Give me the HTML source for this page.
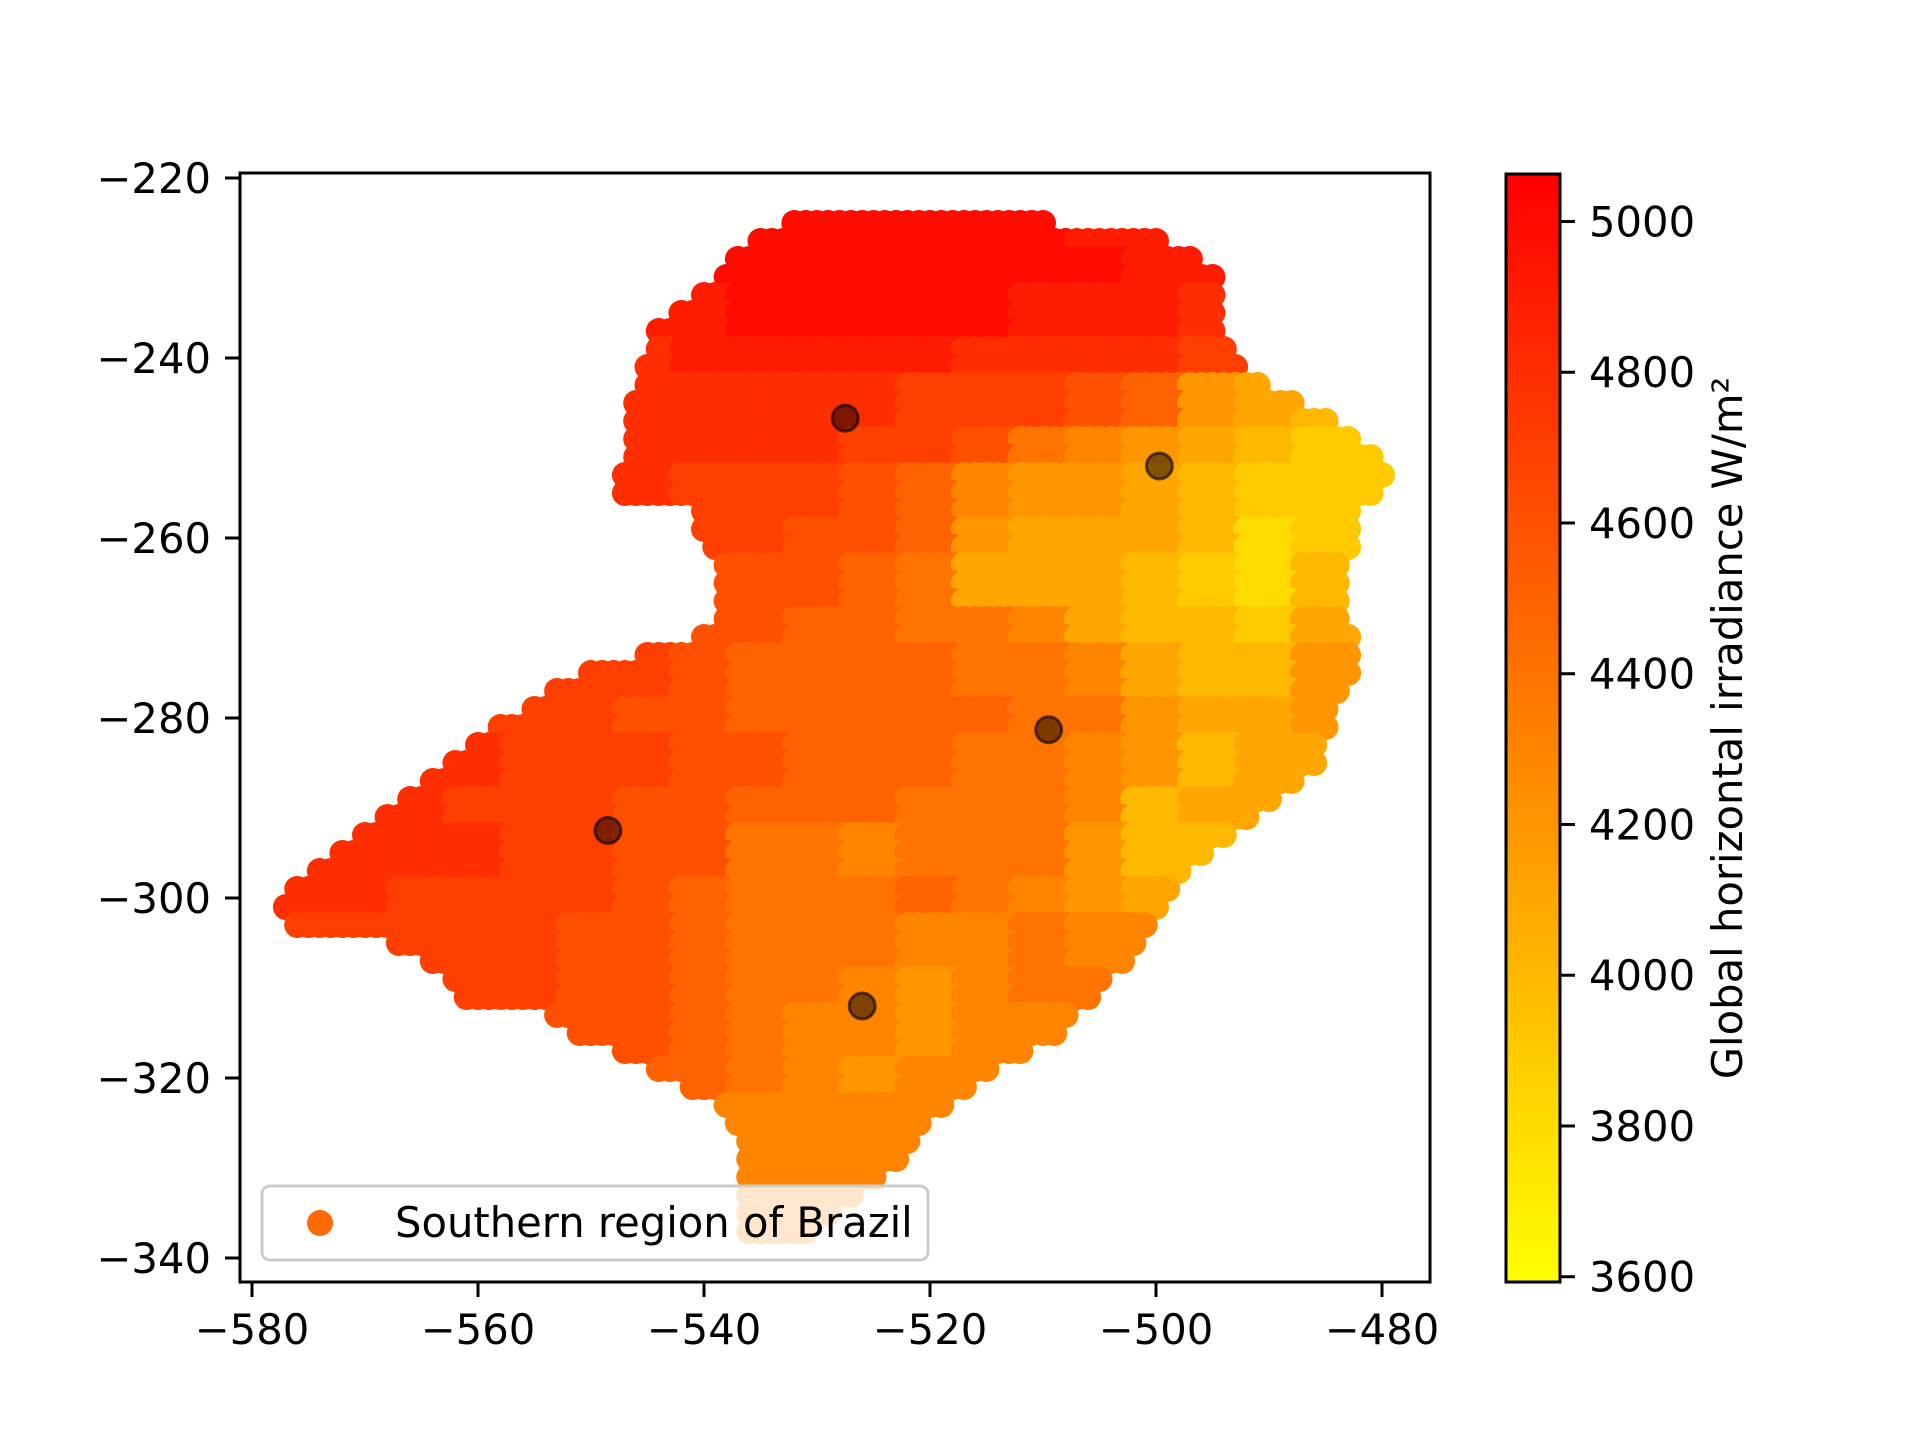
<!DOCTYPE html>
<html><head><meta charset="utf-8">
<style>
html,body{margin:0;padding:0;background:#fff;}
svg{display:block;}
text{font-family:"DejaVu Sans","Liberation Sans",sans-serif;font-size:41.7px;fill:#000;}
</style></head>
<body>
<svg id="chart" width="1920" height="1440" viewBox="0 0 1920 1440" xmlns="http://www.w3.org/2000/svg">
<defs>
<linearGradient id="cbgrad" x1="0" y1="1" x2="0" y2="0">
<stop offset="0" stop-color="#ffff00"/><stop offset="1" stop-color="#ff0000"/>
</linearGradient>
<clipPath id="axclip"><rect x="240" y="173" width="1190" height="1109"/></clipPath>
</defs>
<g id="points" clip-path="url(#axclip)"></g>
<g id="markers"></g>
<rect x="240" y="173" width="1190" height="1109" fill="none" stroke="#000" stroke-width="3"/>
<g id="xticks"></g>
<g id="yticks"></g>
<g>
<rect x="262" y="1186" width="666" height="74" rx="8" fill="rgba(255,255,255,0.8)" stroke="#cccccc" stroke-width="3"/>
<circle cx="320" cy="1223" r="13" fill="#ff6a00"/>
<text x="395" y="1237">Southern region of Brazil</text>
</g>
<rect x="1506" y="174" width="54" height="1108" fill="url(#cbgrad)" stroke="#000" stroke-width="3"/>
<g id="cbticks"></g>
<text transform="translate(1742,728) rotate(-90)" text-anchor="middle">Global horizontal irradiance W/m²</text>
</svg>
<script>
const xTicks=[-580,-560,-540,-520,-500,-480];
const yTicks=[-220,-240,-260,-280,-300,-320,-340];
const cbTicks=[3600,3800,4000,4200,4400,4600,4800,5000];
const vMin=3593, vMax=5063;
// value grid: rows y=-225..-340 step 5, cols x=-580..-480 step 5; value=3600+100*code(hex)
const gridY0=-225, gridX0=-580;
const valueGrid=[
"EEEEEEEEEEEEEEEDDDDDD",
"EEEEEEEEEEEEEEEEDDDDD",
"DDDDDDDDDEEEEEDDDCCCC",
"CCCCCCCCDDDDDCCCCBBBB",
"CCCCCCCCCCCCBBBA96544",
"CCCCCCCCCCCBBA8765433",
"CCCCCCCCBBBA976654333",
"BBBBBBBBBBAA965554232",
"AAAAAAAAAAA9855543244",
"AAAAAAAAAA99887544355",
"BBBBBBBBA999988754466",
"BBBBBBBAA999998865566",
"CCCCCBBBAA99988764555",
"CCCCBBBAA999888745555",
"CCCCCBBAA887888644444",
"CCCBBBBA988898765555",
"BBBBBBAA988877877777",
"BBBBBBAA988767888888",
"AAAAAAAA987767777777",
"999999999876777777777",
"777777777777777777777",
"777777777777777777777",
"777777777777777777777",
"777777777777777777777"
];
// region shape: row y and x extents
const rowY=[-225,-227,-229,-231,-233,-235,-237,-239,-241,-243,-245,-247,-249,-251,-253,-255,-257,-259,-261,-263,-265,-267,-269,-271,-273,-275,-277,-279,-281,-283,-285,-287,-289,-291,-293,-295,-297,-299,-301,-303,-305,-307,-309,-311,-313,-315,-317,-319,-321,-323,-325,-327,-329,-331,-333,-335,-337];
const rowXMin=[-532,-535,-537,-538,-540,-542,-544,-544,-545,-545,-546,-546,-546,-546,-547,-547,-540,-540,-539,-538,-538,-538,-538,-540,-545,-550,-553,-555,-558,-560,-562,-564,-566,-568,-570,-572,-574,-576,-577,-576,-567,-564,-562,-561,-553,-551,-547,-544,-541,-538,-537,-536,-536,-536,-536,-536,-536];
const rowXMax=[-510,-500,-497,-495,-495,-495,-495,-494,-493,-491,-488,-485,-483,-481,-480,-481,-483,-483,-483,-484,-484,-484,-484,-483,-483,-483,-484,-485,-485,-486,-486,-488,-490,-492,-494,-496,-498,-499,-500,-501,-502,-503,-505,-506,-508,-509,-512,-515,-517,-519,-521,-522,-523,-525,-527,-529,-531];
const markerX=[-527.5,-499.7,-548.5,-509.5,-526];
const markerY=[-246.7,-252,-292.5,-281.3,-312];

const NS="http://www.w3.org/2000/svg";
const sx=v=>252+(v+580)*11.3;
const sy=v=>178+(-220-v)*9.0;
const cy=v=>1282-(v-vMin)/(vMax-vMin)*1108;
function color(v){let t=(v-vMin)/(vMax-vMin);t=Math.max(0,Math.min(1,t));return "rgb(255,"+Math.round(255*(1-t))+",0)";}
function valueAt(x,y){
  let r=Math.round((gridY0-y)/5), c=Math.round((x-gridX0)/5);
  r=Math.max(0,Math.min(valueGrid.length-1,r));
  const row=valueGrid[r]; c=Math.max(0,Math.min(row.length-1,c));
  return 3600+100*parseInt(row[c],16);
}
function mk(tag,attrs,parent){const e=document.createElementNS(NS,tag);for(const k in attrs)e.setAttribute(k,attrs[k]);parent.appendChild(e);return e;}
const pg=document.getElementById('points');
for(let i=0;i<rowY.length;i++){
  for(let x=rowXMin[i];x<=rowXMax[i];x+=1){
    const c=mk('circle',{cx:sx(x),cy:sy(rowY[i]),r:13,fill:color(valueAt(x,rowY[i]))},pg);
    
    
  }
}
const mg=document.getElementById('markers');
for(let i=0;i<markerX.length;i++){
  const c=mk('circle',{cx:sx(markerX[i]),cy:sy(markerY[i]),r:13,fill:'rgba(0,0,0,0.5)',stroke:'rgba(0,0,0,0.6)','stroke-width':3},mg);
  
  
}
const xg=document.getElementById('xticks');
xTicks.forEach(v=>{
  const l=mk('line',{x1:sx(v),x2:sx(v),y1:1282,y2:1297,stroke:'#000','stroke-width':3},xg);
  
  
  const t=mk('text',{x:sx(v),y:1344,'text-anchor':'middle'},xg);
  t.textContent='\u2212'+Math.abs(v);
  
  
});
const yg=document.getElementById('yticks');
yTicks.forEach(v=>{
  const l=mk('line',{x1:225,x2:240,y1:sy(v),y2:sy(v),stroke:'#000','stroke-width':3},yg);
  
  
  const t=mk('text',{x:211,y:sy(v)+15,'text-anchor':'end'},yg);
  t.textContent='\u2212'+Math.abs(v);
  
  
});
const cg=document.getElementById('cbticks');
cbTicks.forEach(v=>{
  const l=mk('line',{x1:1560,x2:1575,y1:cy(v),y2:cy(v),stroke:'#000','stroke-width':3},cg);
  
  
  const t=mk('text',{x:1589,y:cy(v)+15},cg);
  t.textContent=String(v);
  
  
});
</script>
</body></html>
